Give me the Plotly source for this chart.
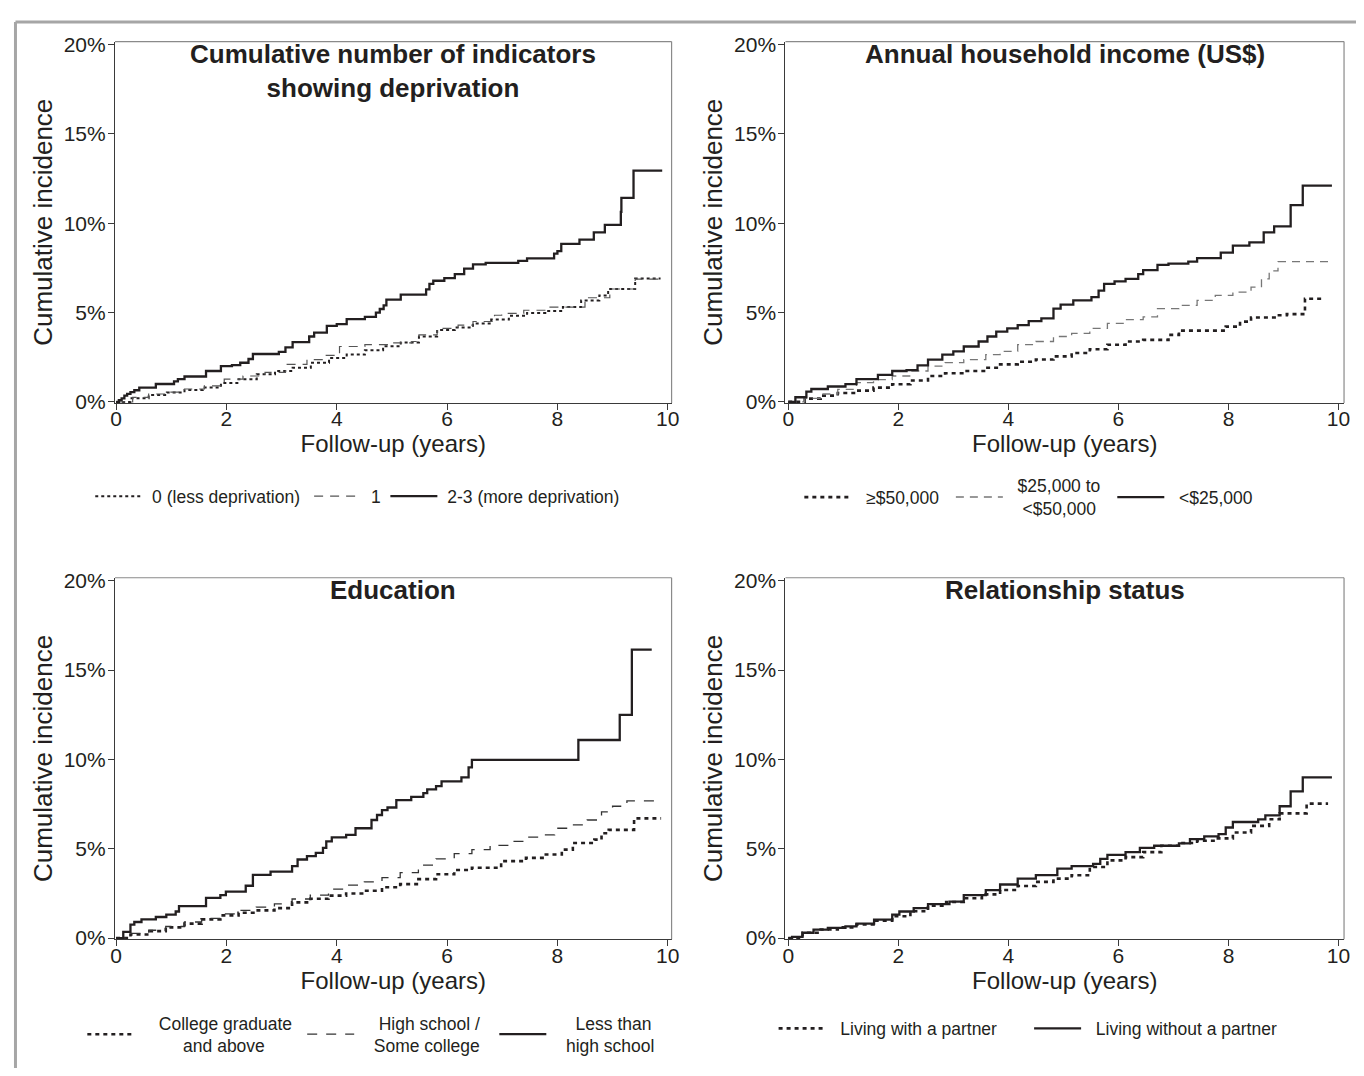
import plotly.graph_objects as go

# The page adds an 8px body margin; the figure is sized so the page fits the window exactly.
OFF = 8
W, H = 1364 - 2 * OFF, 1076 - 2 * OFF
INK = "#231f20"
FONT = "Liberation Sans, Arial, sans-serif"

# ---------------- data (years, cumulative incidence %) ----------------
# Panel 1: cumulative number of deprivation indicators
dep0_t = [0, 0.26, 0.59, 0.92, 1.24, 1.57, 1.9, 2.22, 2.55, 2.88, 3.2, 3.53, 3.86, 4.18, 4.51, 4.84,
          5.16, 5.49, 5.82, 6.14, 6.47, 6.8, 7.12, 7.45, 7.78, 8.1, 8.43, 8.76, 8.92, 9.41, 9.87]
dep0_y = [0, 0.2, 0.39, 0.53, 0.66, 0.81, 1.05, 1.27, 1.54, 1.73, 1.91, 2.19, 2.46, 2.65, 2.89, 3.11,
          3.33, 3.66, 4.03, 4.17, 4.39, 4.61, 4.82, 4.98, 5.09, 5.31, 5.68, 5.96, 6.32, 6.91, 6.91]
dep1_t = [0, 0.3, 0.59, 0.9, 1.24, 1.6, 1.96, 2.3, 2.7, 3.07, 3.46, 3.75, 4.05, 4.51, 5.0, 5.36,
          5.49, 5.82, 6.2, 6.47, 6.86, 6.99, 7.39, 7.84, 8.5, 8.95, 9.41, 9.87]
dep1_y = [0, 0.25, 0.44, 0.55, 0.72, 0.9, 1.27, 1.45, 1.65, 2.1, 2.37, 2.6, 3.1, 3.2, 3.3, 3.38,
          3.75, 4.12, 4.3, 4.5, 4.85, 4.95, 5.13, 5.3, 5.83, 6.32, 6.87, 6.93]
dep23_t = [0, 0.05, 0.1, 0.15, 0.2, 0.26, 0.33, 0.42, 0.72, 1.05, 1.12, 1.24, 1.63, 1.90, 2.10, 2.25,
           2.40, 2.48, 2.95, 3.07, 3.20, 3.50, 3.59, 3.82, 4.00, 4.18, 4.51, 4.71, 4.78, 4.85, 4.90,
           5.16, 5.62, 5.68, 5.75, 5.95, 6.14, 6.31, 6.47, 6.70, 7.29, 7.45, 7.94, 8.00, 8.07, 8.40,
           8.66, 8.86, 9.15, 9.16, 9.38, 9.90]
dep23_y = [0, 0.1, 0.2, 0.35, 0.45, 0.55, 0.65, 0.8, 1.0, 1.15, 1.27, 1.42, 1.73, 2.0, 2.06, 2.19,
           2.4, 2.68, 2.8, 3.05, 3.35, 3.66, 3.88, 4.25, 4.35, 4.63, 4.76, 5.0, 5.2, 5.4, 5.72,
           6.0, 6.3, 6.6, 6.78, 6.93, 7.15, 7.46, 7.7, 7.78, 7.89, 8.03, 8.3, 8.44, 8.84, 9.08,
           9.49, 9.91, 10.64, 11.42, 12.94, 12.94]

# Panel 2: annual household income
inc_hi_t = [0, 0.3, 0.59, 0.9, 1.24, 1.55, 1.89, 2.22, 2.54, 2.85, 3.19, 3.59, 3.85, 4.17, 4.5,
            4.82, 5.15, 5.48, 5.8, 6.13, 6.45, 6.91, 7.1, 7.95, 8.21, 8.41, 8.87, 9.06, 9.39, 9.75]
inc_hi_y = [0, 0.18, 0.35, 0.5, 0.63, 0.8, 0.99, 1.2, 1.45, 1.6, 1.73, 1.91, 2.1, 2.25, 2.37,
            2.55, 2.74, 2.95, 3.2, 3.38, 3.47, 3.75, 3.99, 4.21, 4.49, 4.72, 4.85, 4.91, 5.77, 5.77]
inc_mid_t = [0, 0.3, 0.59, 0.9, 1.24, 1.55, 1.89, 2.22, 2.54, 2.85, 3.19, 3.59, 3.85, 4.17, 4.5,
             4.82, 5.15, 5.48, 5.8, 6.13, 6.45, 6.71, 7.1, 7.43, 7.76, 8.08, 8.41, 8.6, 8.74, 8.9, 9.91]
inc_mid_y = [0, 0.2, 0.44, 0.7, 1.08, 1.25, 1.45, 1.73, 2.0, 2.2, 2.37, 2.65, 2.83, 3.2, 3.38,
             3.66, 3.84, 4.12, 4.39, 4.61, 4.76, 5.22, 5.4, 5.68, 5.96, 6.14, 6.42, 6.88, 7.33, 7.85, 7.85]
inc_lo_t = [0, 0.13, 0.33, 0.42, 0.72, 1.04, 1.24, 1.63, 1.89, 2.15, 2.35, 2.54, 2.8, 3.0, 3.19,
            3.46, 3.62, 3.78, 3.98, 4.17, 4.37, 4.6, 4.82, 4.95, 5.18, 5.51, 5.64, 5.74, 5.93, 6.13,
            6.36, 6.45, 6.71, 6.91, 7.27, 7.43, 7.86, 8.08, 8.38, 8.64, 8.83, 9.13, 9.35, 9.88]
inc_lo_y = [0, 0.26, 0.57, 0.72, 0.86, 0.99, 1.27, 1.51, 1.73, 1.78, 2.04, 2.37, 2.65, 2.83, 3.1,
            3.38, 3.66, 3.93, 4.12, 4.3, 4.52, 4.67, 5.22, 5.44, 5.68, 5.86, 6.23, 6.6, 6.75, 6.88,
            7.15, 7.37, 7.67, 7.74, 7.85, 8.05, 8.35, 8.75, 8.93, 9.49, 9.82, 11.01, 12.11, 12.11]

# Panel 3: education
edu_hi_t = [0, 0.26, 0.59, 0.9, 1.24, 1.55, 1.89, 2.22, 2.54, 2.87, 3.19, 3.52, 3.85, 4.17, 4.5,
            4.82, 5.15, 5.48, 5.8, 6.13, 6.45, 6.98, 7.43, 7.76, 8.08, 8.28, 8.67, 8.8, 8.93, 9.39, 9.88]
edu_hi_y = [0, 0.2, 0.39, 0.6, 0.81, 1.05, 1.27, 1.42, 1.55, 1.68, 2.0, 2.2, 2.38, 2.5, 2.65,
            2.85, 3.02, 3.3, 3.57, 3.81, 3.94, 4.31, 4.49, 4.68, 4.95, 5.32, 5.51, 5.87, 6.06, 6.7, 6.7]
edu_mid_t = [0, 0.26, 0.59, 0.9, 1.24, 1.55, 1.89, 2.22, 2.54, 2.87, 3.19, 3.52, 3.85, 4.17, 4.5,
             4.82, 5.15, 5.48, 5.8, 6.13, 6.45, 6.78, 7.1, 7.43, 7.76, 7.95, 8.28, 8.54, 8.8, 9.0, 9.26, 9.84]
edu_mid_y = [0, 0.26, 0.44, 0.65, 0.9, 1.1, 1.36, 1.55, 1.73, 1.92, 2.19, 2.41, 2.74, 2.97, 3.15,
             3.39, 3.66, 4.09, 4.44, 4.73, 4.95, 5.19, 5.41, 5.65, 5.78, 6.15, 6.34, 6.61, 7.07, 7.38, 7.68, 7.68]
edu_lo_t = [0, 0.13, 0.26, 0.33, 0.46, 0.72, 0.91, 1.08, 1.14, 1.63, 1.89, 1.99, 2.35, 2.48, 2.8,
            3.19, 3.29, 3.46, 3.62, 3.75, 3.81, 3.91, 4.17, 4.34, 4.63, 4.73, 4.82, 4.92, 5.08, 5.35,
            5.57, 5.64, 5.8, 5.9, 6.26, 6.39, 6.45, 8.38, 9.13, 9.35, 9.71]
edu_lo_y = [0, 0.35, 0.75, 0.9, 1.05, 1.18, 1.31, 1.49, 1.79, 2.25, 2.41, 2.6, 2.93, 3.54, 3.72,
            4.03, 4.4, 4.59, 4.77, 5.05, 5.41, 5.64, 5.78, 6.15, 6.61, 6.89, 7.16, 7.31, 7.72, 7.9,
            8.12, 8.32, 8.51, 8.77, 9.0, 9.56, 9.98, 11.09, 12.5, 16.15, 16.15]

# Panel 4: relationship status
rel_w_t = [0, 0.26, 0.59, 0.9, 1.24, 1.55, 1.89, 2.22, 2.54, 2.87, 3.19, 3.52, 3.85, 4.17, 4.5,
           4.82, 5.15, 5.48, 5.8, 6.13, 6.45, 6.78, 7.1, 7.43, 7.76, 8.08, 8.41, 8.74, 8.93, 9.42, 9.81]
rel_w_y = [0, 0.3, 0.48, 0.6, 0.76, 0.98, 1.22, 1.5, 1.82, 2.02, 2.23, 2.45, 2.69, 2.92, 3.15,
           3.33, 3.52, 3.98, 4.35, 4.53, 4.81, 5.17, 5.32, 5.45, 5.58, 5.91, 6.28, 6.65, 6.98, 7.53, 7.53]
rel_wo_t = [0, 0.07, 0.26, 0.46, 0.72, 1.04, 1.24, 1.56, 1.89, 2.02, 2.28, 2.54, 2.93, 3.19, 3.59,
            3.85, 4.17, 4.5, 4.89, 5.15, 5.54, 5.67, 5.8, 6.13, 6.39, 6.65, 7.1, 7.3, 7.56, 7.82,
            7.95, 8.08, 8.54, 8.67, 8.93, 9.13, 9.35, 9.88]
rel_wo_y = [0, 0.07, 0.3, 0.48, 0.57, 0.66, 0.81, 1.03, 1.31, 1.49, 1.68, 1.9, 2.04, 2.41, 2.69,
            3.0, 3.33, 3.52, 3.89, 4.03, 4.16, 4.44, 4.66, 4.81, 5.05, 5.17, 5.3, 5.54, 5.69, 5.82,
            6.19, 6.5, 6.65, 6.87, 7.38, 8.21, 9.0, 9.0]

panel_titles = ["Cumulative number of indicators<br>showing deprivation",
                "Annual household income (US$)", "Education", "Relationship status"]
x_ticks = [0, 2, 4, 6, 8, 10]
y_ticks = [0, 5, 10, 15, 20]
x_title = "Follow-up (years)"
y_title = "Cumulative incidence"

NB = "\u00a0"
leg_names = {
    "dep0": NB + "0 (less deprivation)", "dep1": NB + "1", "dep23": NB + "2-3 (more deprivation)",
    "inc_hi": NB * 2 + "≥$50,000",
    "inc_mid": NB * 2 + "$25,000 to<br>" + NB * 3 + "<$50,000",
    "inc_lo": NB * 2 + "<$25,000",
    "edu_hi": NB * 4 + "College graduate<br>" + NB * 9 + "and above",
    "edu_mid": NB * 4 + "High school /<br>" + NB * 3 + "Some college",
    "edu_lo": NB * 5 + "Less than<br>" + NB * 3 + "high school",
    "rel_w": NB * 2 + "Living with a partner", "rel_wo": NB * 2 + "Living without a partner",
}

# ---------------- styles ----------------
SOLID = dict(color=INK, width=2.3)
DOT1 = dict(color=INK, width=2.0, dash="3px,3px")
DOT = dict(color=INK, width=2.6, dash="4px,4px")
DASH1 = dict(color="#555555", width=1.2, dash="9px,7px")
DASH2 = dict(color="#777777", width=1.3, dash="8px,6px")
DASH3 = dict(color="#333333", width=1.3, dash="10px,9px")

# (panel, legend id, t, y, key, line style, legend sample start x, legend centre y) in screen px
series = [
    (1, "legend", dep0_t, dep0_y, "dep0", DOT1, 91, 496),
    (1, "legend2", dep1_t, dep1_y, "dep1", DASH1, 312, 496),
    (1, "legend3", dep23_t, dep23_y, "dep23", SOLID, 389, 496),
    (2, "legend4", inc_hi_t, inc_hi_y, "inc_hi", DOT, 807, 497),
    (2, "legend5", inc_mid_t, inc_mid_y, "inc_mid", DASH2, 960, 497),
    (2, "legend6", inc_lo_t, inc_lo_y, "inc_lo", SOLID, 1123, 497),
    (3, "legend7", edu_hi_t, edu_hi_y, "edu_hi", DOT, 83, 1044),
    (3, "legend8", edu_mid_t, edu_mid_y, "edu_mid", DASH3, 305, 1044),
    (3, "legend9", edu_lo_t, edu_lo_y, "edu_lo", SOLID, 499, 1044),
    (4, "legend10", rel_w_t, rel_w_y, "rel_w", DOT, 781, 1038),
    (4, "legend11", rel_wo_t, rel_wo_y, "rel_wo", SOLID, 1039, 1038),
]


def px_x(p):
    return (p - OFF) / W


def px_y(p):
    return 1 - (p - OFF) / H


fig = go.Figure()
for k, leg, t, y, key, line, _, _ in series:
    sfx = "" if k == 1 else str(k)
    fig.add_trace(go.Scatter(
        x=t, y=y, mode="lines", line=dict(shape="hv", **line),
        name=leg_names[key], legend=leg, xaxis="x" + sfx, yaxis="y" + sfx,
        hoverinfo="skip"))

# ---------------- layout ----------------
xdoms = {1: [px_x(111), px_x(673)], 2: [px_x(788), px_x(1352)],
         3: [px_x(111), px_x(673)], 4: [px_x(788), px_x(1352)]}
ydoms = {1: [px_y(401), px_y(33)], 2: [px_y(401), px_y(33)],
         3: [px_y(947), px_y(579)], 4: [px_y(947), px_y(579)]}
xranges = {1: [-0.02, 10.07], 2: [-0.05, 10.1], 3: [-0.02, 10.07], 4: [-0.05, 10.1]}

layout = dict(width=W, height=H, margin=dict(l=0, r=0, t=0, b=0),
              paper_bgcolor="white", plot_bgcolor="white",
              font=dict(family=FONT, color=INK), showlegend=True)
for k in range(1, 5):
    sfx = "" if k == 1 else str(k)
    layout["xaxis" + sfx] = dict(
        domain=xdoms[k], anchor="y" + sfx, range=xranges[k],
        tickmode="array", tickvals=x_ticks, ticktext=[str(v) for v in x_ticks],
        showline=True, linecolor="#3a3a3a", linewidth=1.3, mirror=False,
        ticks="outside", ticklen=6, tickwidth=1, tickcolor="#3a3a3a",
        ticklabelstandoff=-9,
        showgrid=False, zeroline=False,
        tickfont=dict(size=21, color=INK, family=FONT),
        title=dict(text=x_title, font=dict(size=24, color=INK, family=FONT), standoff=3))
    layout["yaxis" + sfx] = dict(
        domain=ydoms[k], anchor="x" + sfx, range=[-0.06, 20.17],
        tickmode="array", tickvals=y_ticks, ticktext=[f"{v}%" for v in y_ticks],
        showline=True, linecolor="#3a3a3a", linewidth=1.3, mirror=False,
        ticks="outside", ticklen=6, tickwidth=1, tickcolor="#3a3a3a",
        ticklabelstandoff=-2,
        showgrid=False, zeroline=False,
        tickfont=dict(size=21, color=INK, family=FONT),
        title=dict(text=y_title, font=dict(size=26, color=INK, family=FONT), standoff=3))

leg_common = dict(orientation="h", font=dict(size=17.5, color=INK, family=FONT),
                  bgcolor="rgba(0,0,0,0)", borderwidth=0, itemwidth=47,
                  xanchor="left", yanchor="middle", itemclick=False, itemdoubleclick=False)
for k, leg, t, y, key, line, sx, cy in series:
    layout[leg] = dict(leg_common, x=px_x(sx - 5), y=px_y(cy))

shapes = []
annotations = []
for k in range(1, 5):
    sfx = "" if k == 1 else str(k)
    xr, yr = "x" + sfx + " domain", "y" + sfx + " domain"
    shapes.append(dict(type="line", xref=xr, yref=yr, x0=0, x1=1, y0=1, y1=1,
                       line=dict(color="#8a8a8a", width=1.2)))
    shapes.append(dict(type="line", xref=xr, yref=yr, x0=1, x1=1, y0=0, y1=1,
                       line=dict(color="#8a8a8a", width=1.2)))
    annotations.append(dict(text="<b>" + panel_titles[k - 1] + "</b>", xref=xr, yref=yr,
                            x=0.5, y=1, xanchor="center", yanchor="top", yshift=5,
                            showarrow=False, font=dict(size=26, color=INK, family=FONT)))
# outer grey frame (top and left edges)
shapes.append(dict(type="line", xref="paper", yref="paper", x0=px_x(10.5), x1=1.02,
                   y0=px_y(13), y1=px_y(13), line=dict(color="#a6a6a6", width=3)))
shapes.append(dict(type="line", xref="paper", yref="paper", x0=px_x(10.5), x1=px_x(10.5),
                   y0=-0.02, y1=px_y(13), line=dict(color="#a6a6a6", width=3)))
layout["shapes"] = shapes
layout["annotations"] = annotations

fig.update_layout(**layout)
fig.write_html("out.html")
